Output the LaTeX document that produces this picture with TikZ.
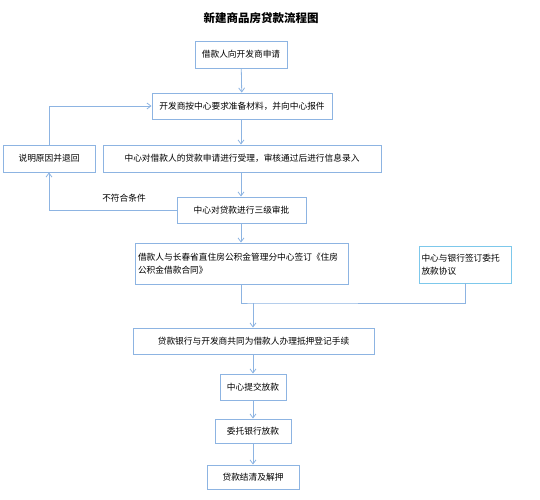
\documentclass[tikz,border=0pt]{standalone}
\usepackage{fontspec}
\setmainfont{Noto Sans CJK SC}
\usepackage{tikz}
\usetikzlibrary{arrows.meta}
\definecolor{boxblue}{RGB}{141,180,226}
\definecolor{boxcyan}{RGB}{125,200,235}
\definecolor{lineblue}{RGB}{141,180,226}

\begin{document}
\begin{tikzpicture}[
  x=1pt, y=-1pt,
  block/.style={rectangle, draw=boxblue, line width=0.9pt, fill=white, inner sep=0pt, align=center, font=\fontsize{8.7}{12.5}\selectfont},
  arrow/.style={-{Straight Barb[length=4pt,width=6pt]}, line width=0.8pt, draw=lineblue},
  link/.style={line width=0.8pt, draw=lineblue}
]
\useasboundingbox (0,0) rectangle (540,499);
\node[font=\fontsize{11.5}{14}\selectfont\bfseries] (title) at (261,18) {新建商品房贷款流程图};
\node[block, minimum width=92pt, minimum height=27pt] (apply) at (241,54.5) {借款人向开发商申请};
\node[block, minimum width=180pt, minimum height=26pt] (prepare) at (242,106) {开发商按中心要求准备材料，并向中心报件};
\node[block, minimum width=92pt, minimum height=27pt] (back) at (49,158.5) {说明原因并退回};
\node[block, minimum width=278pt, minimum height=27pt] (accept) at (242,158.5) {中心对借款人的贷款申请进行受理，审核通过后进行信息录入};
\node[block, minimum width=129pt, minimum height=26pt] (approve) at (241.5,210) {中心对贷款进行三级审批};
\node[block, minimum width=213pt, minimum height=41pt, text width=207pt, align=left] (contract) at (241.5,263.5) {借款人与长春省直住房公积金管理分中心签订《住房\\公积金借款合同》};
\node[block, draw=boxcyan, minimum width=92pt, minimum height=37pt, text width=87pt, align=left] (entrust) at (465,264.5) {中心与银行签订委托\\放款协议};
\node[block, minimum width=241pt, minimum height=26pt] (mortgage) at (253.5,341) {贷款银行与开发商共同为借款人办理抵押登记手续};
\node[block, minimum width=66pt, minimum height=26pt] (submit) at (253,387) {中心提交放款};
\node[block, minimum width=76pt, minimum height=24pt] (release) at (253,431) {委托银行放款};
\node[block, minimum width=92pt, minimum height=24pt] (settle) at (253,477) {贷款结清及解押};
\coordinate (join) at (253,303);
\node[font=\fontsize{8.7}{12.5}\selectfont] (reject) at (124,198) {不符合条件};
\draw[arrow] (apply) -- (prepare);
\draw[arrow] (prepare.south -| apply) -- (accept.north -| apply);
\draw[arrow] (accept.south -| apply) -- (approve.north -| apply);
\draw[arrow] (approve.south -| apply) -- (contract.north -| apply);
\draw[arrow] (approve.west) -| (back.south);
\draw[arrow] (back.north) |- (prepare.west);
\draw[link] (contract.south -| apply) |- (join) -| (entrust.south);
\draw[arrow] (join) -- (mortgage.north -| join);
\draw[arrow] (mortgage.south -| join) -- (submit.north -| join);
\draw[arrow] (submit.south -| join) -- (release.north -| join);
\draw[arrow] (release.south -| join) -- (settle.north -| join);
\end{tikzpicture}
\end{document}
